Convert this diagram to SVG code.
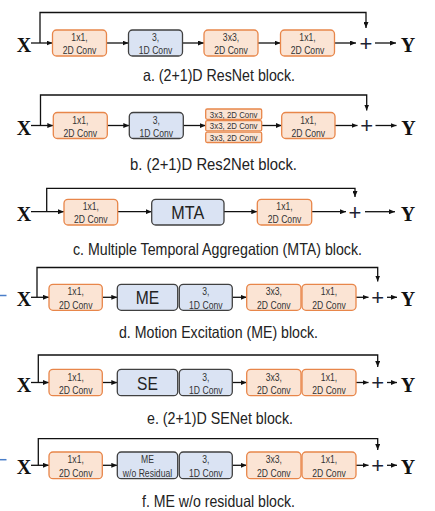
<svg xmlns="http://www.w3.org/2000/svg" width="435" height="511" viewBox="0 0 435 511">
<defs>
<style>
.o{fill:#FBE4D4;stroke:#E8864A;stroke-width:1.3}
.b{fill:#DAE3F3;stroke:#404040;stroke-width:1.3}
.bt{font-family:"Liberation Sans",Arial,sans-serif;font-size:10.5px;fill:#333;text-anchor:middle}
.st{font-family:"Liberation Sans",Arial,sans-serif;font-size:9.6px;fill:#333;text-anchor:middle}
.big{font-family:"Liberation Sans",Arial,sans-serif;font-size:19px;fill:#222;text-anchor:middle}
.cap{font-family:"Liberation Sans",Arial,sans-serif;font-size:16.5px;fill:#222;text-anchor:middle}
.xy{font-family:"Liberation Serif","Times New Roman",serif;font-weight:bold;font-size:20px;fill:#111;text-anchor:middle}
.pl{font-family:"Liberation Sans",Arial,sans-serif;font-size:22px;fill:#1d2333;text-anchor:middle}
.c{fill:none;stroke:#111;stroke-width:1.3}
.bd{fill:none;stroke:#4A7EC9;stroke-width:1.5}
</style>
<marker id="ah" markerUnits="userSpaceOnUse" markerWidth="6" markerHeight="5" refX="6" refY="2.5" orient="auto">
<path d="M0,0 L6,2.5 L0,5 z" fill="#111"/>
</marker>
</defs>

<g id="connectors">
<path class="c" d="M31,43 H52.5" marker-end="url(#ah)"/>
<path class="c" d="M40,43 V12.5 H366 V28" marker-end="url(#ah)"/>
<path class="c" d="M106.5,43 H128.5" marker-end="url(#ah)"/>
<path class="c" d="M182.5,43 H204" marker-end="url(#ah)"/>
<path class="c" d="M258,43 H280.5" marker-end="url(#ah)"/>
<path class="c" d="M334.5,43 H356" marker-end="url(#ah)"/>
<path class="c" d="M375,43 H396" marker-end="url(#ah)"/>
<path class="c" d="M31,125.5 H53.3" marker-end="url(#ah)"/>
<path class="c" d="M40.5,125.5 V95 H366.7 V110.5" marker-end="url(#ah)"/>
<path class="c" d="M107.3,125.5 H129.3" marker-end="url(#ah)"/>
<path class="c" d="M183.3,125.5 H205.7" marker-end="url(#ah)"/>
<path class="c" d="M261.7,125.5 H281.7" marker-end="url(#ah)"/>
<path class="c" d="M335,125.5 H357.5" marker-end="url(#ah)"/>
<path class="c" d="M375.5,125.5 H396.5" marker-end="url(#ah)"/>
<path class="c" d="M31,211.7 H64" marker-end="url(#ah)"/>
<path class="c" d="M46.7,211.7 V188.3 H355 V197" marker-end="url(#ah)"/>
<path class="c" d="M117.7,211.7 H151.7" marker-end="url(#ah)"/>
<path class="c" d="M224,211.7 H257.3" marker-end="url(#ah)"/>
<path class="c" d="M311.7,211.7 H346" marker-end="url(#ah)"/>
<path class="c" d="M365,211.7 H395" marker-end="url(#ah)"/>
<path class="c" d="M31,297.3 H49" marker-end="url(#ah)"/>
<path class="c" d="M37,297.3 V267.5 H377.7 V281.5" marker-end="url(#ah)"/>
<path class="c" d="M102.3,297.3 H117.3" marker-end="url(#ah)"/>
<path class="c" d="M232.3,297.3 H246.7" marker-end="url(#ah)"/>
<path class="c" d="M356,297.3 H368.5" marker-end="url(#ah)"/>
<path class="c" d="M387,297.3 H397" marker-end="url(#ah)"/>
<path class="c" d="M31,382.5 H49" marker-end="url(#ah)"/>
<path class="c" d="M38.3,382.5 V355 H377.7 V367" marker-end="url(#ah)"/>
<path class="c" d="M102.3,382.5 H117.3" marker-end="url(#ah)"/>
<path class="c" d="M232.3,382.5 H246.7" marker-end="url(#ah)"/>
<path class="c" d="M356,382.5 H368.5" marker-end="url(#ah)"/>
<path class="c" d="M387,382.5 H397" marker-end="url(#ah)"/>
<path class="c" d="M31,465.3 H49" marker-end="url(#ah)"/>
<path class="c" d="M38.3,465.3 V438.7 H377.7 V450" marker-end="url(#ah)"/>
<path class="c" d="M102.3,465.3 H117.3" marker-end="url(#ah)"/>
<path class="c" d="M232.3,465.3 H246.7" marker-end="url(#ah)"/>
<path class="c" d="M356,465.3 H368.5" marker-end="url(#ah)"/>
<path class="c" d="M387,465.3 H397" marker-end="url(#ah)"/>
<path class="bd" d="M0,295.5 H6.5"/>
<path class="bd" d="M0,459.7 H6.5"/>
</g>

<g id="a-x"><text class="xy" x="24" y="52">X</text></g>
<g id="a-conv1"><rect class="o" x="52.5" y="30" width="54" height="26" rx="4"/><text class="bt" x="79.5" y="41" textLength="16.3" lengthAdjust="spacingAndGlyphs">1x1,</text><text class="bt" x="79.5" y="54.2" textLength="33.5" lengthAdjust="spacingAndGlyphs">2D Conv</text></g>
<g id="a-conv2"><rect class="b" x="128.5" y="30" width="54" height="26" rx="4"/><text class="bt" x="155.5" y="41" textLength="7.2" lengthAdjust="spacingAndGlyphs">3,</text><text class="bt" x="155.5" y="54.2" textLength="33.5" lengthAdjust="spacingAndGlyphs">1D Conv</text></g>
<g id="a-conv3"><rect class="o" x="204" y="30" width="54" height="26" rx="4"/><text class="bt" x="231" y="41" textLength="16.3" lengthAdjust="spacingAndGlyphs">3x3,</text><text class="bt" x="231" y="54.2" textLength="33.5" lengthAdjust="spacingAndGlyphs">2D Conv</text></g>
<g id="a-conv4"><rect class="o" x="280.5" y="30" width="54" height="26" rx="4"/><text class="bt" x="307.5" y="41" textLength="16.3" lengthAdjust="spacingAndGlyphs">1x1,</text><text class="bt" x="307.5" y="54.2" textLength="33.5" lengthAdjust="spacingAndGlyphs">2D Conv</text></g>
<g id="a-plus"><text class="pl" x="366" y="50.8">+</text></g>
<g id="a-y"><text class="xy" x="408" y="52">Y</text></g>
<g id="a-caption"><text class="cap" x="219" y="81" textLength="152" lengthAdjust="spacingAndGlyphs">a. (2+1)D ResNet block.</text></g>

<g id="b-x"><text class="xy" x="24" y="134.5">X</text></g>
<g id="b-conv1"><rect class="o" x="53.3" y="112.5" width="54" height="26" rx="4"/><text class="bt" x="80.3" y="123.5" textLength="16.3" lengthAdjust="spacingAndGlyphs">1x1,</text><text class="bt" x="80.3" y="136.7" textLength="33.5" lengthAdjust="spacingAndGlyphs">2D Conv</text></g>
<g id="b-conv2"><rect class="b" x="129.3" y="112.5" width="54" height="26" rx="4"/><text class="bt" x="156.3" y="123.5" textLength="7.2" lengthAdjust="spacingAndGlyphs">3,</text><text class="bt" x="156.3" y="136.7" textLength="33.5" lengthAdjust="spacingAndGlyphs">1D Conv</text></g>
<g id="b-conv3">
<rect class="o" x="205.7" y="109" width="56" height="10.3" rx="1.5"/><text class="st" x="233.7" y="117.6" textLength="47.7" lengthAdjust="spacingAndGlyphs">3x3, 2D Conv</text>
<rect class="o" x="205.7" y="120.6" width="56" height="10.3" rx="1.5"/><text class="st" x="233.7" y="129.2" textLength="47.7" lengthAdjust="spacingAndGlyphs">3x3, 2D Conv</text>
<rect class="o" x="205.7" y="132.2" width="56" height="10.3" rx="1.5"/><text class="st" x="233.7" y="140.8" textLength="47.7" lengthAdjust="spacingAndGlyphs">3x3, 2D Conv</text>
</g>
<g id="b-conv4"><rect class="o" x="281.7" y="112.5" width="53.3" height="26" rx="4"/><text class="bt" x="308.3" y="123.5" textLength="16.3" lengthAdjust="spacingAndGlyphs">1x1,</text><text class="bt" x="308.3" y="136.7" textLength="33.5" lengthAdjust="spacingAndGlyphs">2D Conv</text></g>
<g id="b-plus"><text class="pl" x="366.7" y="133.3">+</text></g>
<g id="b-y"><text class="xy" x="408.5" y="134.5">Y</text></g>
<g id="b-caption"><text class="cap" x="213.5" y="170" textLength="167" lengthAdjust="spacingAndGlyphs">b. (2+1)D Res2Net block.</text></g>

<g id="c-x"><text class="xy" x="24" y="220.7">X</text></g>
<g id="c-conv1"><rect class="o" x="64" y="199.3" width="53.7" height="25.7" rx="4"/><text class="bt" x="90.8" y="210.2" textLength="16.3" lengthAdjust="spacingAndGlyphs">1x1,</text><text class="bt" x="90.8" y="223.3" textLength="33.5" lengthAdjust="spacingAndGlyphs">2D Conv</text></g>
<g id="c-mta"><rect class="b" x="151.7" y="199.3" width="72.3" height="25.7" rx="4"/><text class="big" x="187.8" y="219" textLength="32.9" lengthAdjust="spacingAndGlyphs">MTA</text></g>
<g id="c-conv2"><rect class="o" x="257.3" y="199.3" width="54.4" height="25.7" rx="4"/><text class="bt" x="284.5" y="210.2" textLength="16.3" lengthAdjust="spacingAndGlyphs">1x1,</text><text class="bt" x="284.5" y="223.3" textLength="33.5" lengthAdjust="spacingAndGlyphs">2D Conv</text></g>
<g id="c-plus"><text class="pl" x="355" y="219.5">+</text></g>
<g id="c-y"><text class="xy" x="408" y="220.7">Y</text></g>
<g id="c-caption"><text class="cap" x="217.5" y="255" textLength="289" lengthAdjust="spacingAndGlyphs">c. Multiple Temporal Aggregation (MTA) block.</text></g>

<g id="d-x"><text class="xy" x="24" y="306.3">X</text></g>
<g id="d-conv1"><rect class="o" x="49" y="284.3" width="53.3" height="26" rx="4"/><text class="bt" x="75.7" y="295.3" textLength="16.3" lengthAdjust="spacingAndGlyphs">1x1,</text><text class="bt" x="75.7" y="308.5" textLength="33.5" lengthAdjust="spacingAndGlyphs">2D Conv</text></g>
<g id="d-me"><rect class="b" x="117.3" y="284.3" width="60.4" height="26" rx="4"/><text class="big" x="147.5" y="304.3" textLength="23.4" lengthAdjust="spacingAndGlyphs">ME</text></g>
<g id="d-conv2"><rect class="b" x="179.3" y="284.3" width="53" height="26" rx="4"/><text class="bt" x="205.8" y="295.3" textLength="7.2" lengthAdjust="spacingAndGlyphs">3,</text><text class="bt" x="205.8" y="308.5" textLength="33.5" lengthAdjust="spacingAndGlyphs">1D Conv</text></g>
<g id="d-conv3"><rect class="o" x="246.7" y="284.3" width="54.3" height="26" rx="4"/><text class="bt" x="273.8" y="295.3" textLength="16.3" lengthAdjust="spacingAndGlyphs">3x3,</text><text class="bt" x="273.8" y="308.5" textLength="33.5" lengthAdjust="spacingAndGlyphs">2D Conv</text></g>
<g id="d-conv4"><rect class="o" x="302" y="284.3" width="54" height="26" rx="4"/><text class="bt" x="329" y="295.3" textLength="16.3" lengthAdjust="spacingAndGlyphs">1x1,</text><text class="bt" x="329" y="308.5" textLength="33.5" lengthAdjust="spacingAndGlyphs">2D Conv</text></g>
<g id="d-plus"><text class="pl" x="377.7" y="305.1">+</text></g>
<g id="d-y"><text class="xy" x="408" y="306.3">Y</text></g>
<g id="d-caption"><text class="cap" x="218.5" y="338" textLength="199" lengthAdjust="spacingAndGlyphs">d. Motion Excitation (ME) block.</text></g>

<g id="e-x"><text class="xy" x="24" y="391.5">X</text></g>
<g id="e-conv1"><rect class="o" x="49" y="369.3" width="53.3" height="26.4" rx="4"/><text class="bt" x="75.7" y="380.5" textLength="16.3" lengthAdjust="spacingAndGlyphs">1x1,</text><text class="bt" x="75.7" y="393.7" textLength="33.5" lengthAdjust="spacingAndGlyphs">2D Conv</text></g>
<g id="e-se"><rect class="b" x="117.3" y="369.3" width="60.4" height="26.4" rx="4"/><text class="big" x="147.5" y="389.5" textLength="20.8" lengthAdjust="spacingAndGlyphs">SE</text></g>
<g id="e-conv2"><rect class="b" x="179.3" y="369.3" width="53" height="26.4" rx="4"/><text class="bt" x="205.8" y="380.5" textLength="7.2" lengthAdjust="spacingAndGlyphs">3,</text><text class="bt" x="205.8" y="393.7" textLength="33.5" lengthAdjust="spacingAndGlyphs">1D Conv</text></g>
<g id="e-conv3"><rect class="o" x="246.7" y="369.3" width="54.3" height="26.4" rx="4"/><text class="bt" x="273.8" y="380.5" textLength="16.3" lengthAdjust="spacingAndGlyphs">3x3,</text><text class="bt" x="273.8" y="393.7" textLength="33.5" lengthAdjust="spacingAndGlyphs">2D Conv</text></g>
<g id="e-conv4"><rect class="o" x="302" y="369.3" width="54" height="26.4" rx="4"/><text class="bt" x="329" y="380.5" textLength="16.3" lengthAdjust="spacingAndGlyphs">1x1,</text><text class="bt" x="329" y="393.7" textLength="33.5" lengthAdjust="spacingAndGlyphs">2D Conv</text></g>
<g id="e-plus"><text class="pl" x="377.7" y="390.3">+</text></g>
<g id="e-y"><text class="xy" x="408" y="391.5">Y</text></g>
<g id="e-caption"><text class="cap" x="220" y="424" textLength="146" lengthAdjust="spacingAndGlyphs">e. (2+1)D SENet block.</text></g>

<g id="f-x"><text class="xy" x="24" y="474.3">X</text></g>
<g id="f-conv1"><rect class="o" x="49" y="452" width="53.3" height="26.7" rx="4"/><text class="bt" x="75.7" y="463.3" textLength="16.3" lengthAdjust="spacingAndGlyphs">1x1,</text><text class="bt" x="75.7" y="476.5" textLength="33.5" lengthAdjust="spacingAndGlyphs">2D Conv</text></g>
<g id="f-me"><rect class="b" x="117.3" y="452" width="60.4" height="26.7" rx="4"/><text class="bt" x="147.5" y="463.3" textLength="12.9" lengthAdjust="spacingAndGlyphs">ME</text><text class="bt" x="147.5" y="476.5" textLength="49.3" lengthAdjust="spacingAndGlyphs">w/o Residual</text></g>
<g id="f-conv2"><rect class="b" x="179.3" y="452" width="53" height="26.7" rx="4"/><text class="bt" x="205.8" y="463.3" textLength="7.2" lengthAdjust="spacingAndGlyphs">3,</text><text class="bt" x="205.8" y="476.5" textLength="33.5" lengthAdjust="spacingAndGlyphs">1D Conv</text></g>
<g id="f-conv3"><rect class="o" x="246.7" y="452" width="54.3" height="26.7" rx="4"/><text class="bt" x="273.8" y="463.3" textLength="16.3" lengthAdjust="spacingAndGlyphs">3x3,</text><text class="bt" x="273.8" y="476.5" textLength="33.5" lengthAdjust="spacingAndGlyphs">2D Conv</text></g>
<g id="f-conv4"><rect class="o" x="302" y="452" width="54" height="26.7" rx="4"/><text class="bt" x="329" y="463.3" textLength="16.3" lengthAdjust="spacingAndGlyphs">1x1,</text><text class="bt" x="329" y="476.5" textLength="33.5" lengthAdjust="spacingAndGlyphs">2D Conv</text></g>
<g id="f-plus"><text class="pl" x="377.7" y="473.1">+</text></g>
<g id="f-y"><text class="xy" x="408" y="474.3">Y</text></g>
<g id="f-caption"><text class="cap" x="218.5" y="506.5" textLength="153" lengthAdjust="spacingAndGlyphs">f. ME w/o residual block.</text></g>
</svg>
